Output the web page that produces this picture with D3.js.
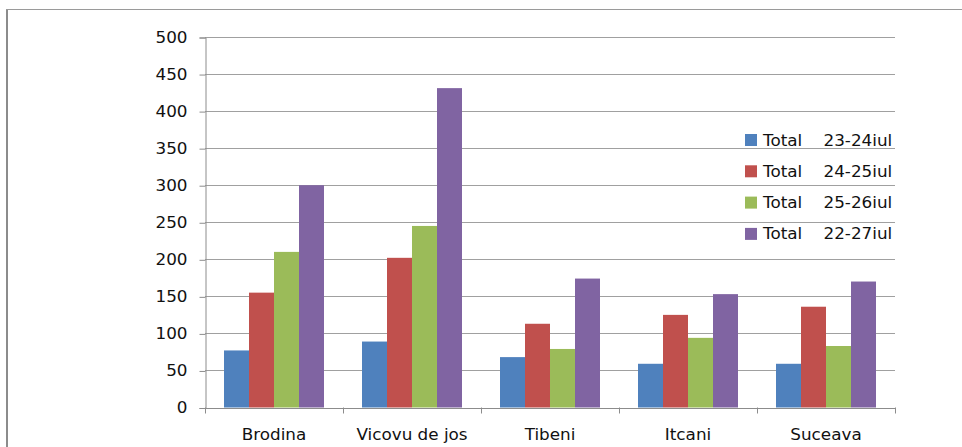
<!DOCTYPE html>
<html>
<head>
<meta charset="utf-8">
<script src="https://cdn.jsdelivr.net/npm/d3@7"></script>
<style>
  html, body { margin: 0; padding: 0; background: #fff; }
  svg { display: block; }
  text { font-family: "DejaVu Sans", sans-serif; font-size: 15px; fill: #111; white-space: pre; }
</style>
</head>
<body>
<svg id="chart" width="962" height="447"></svg>
<script>
// Categories (border points) and totals per period
const categories = ["Brodina", "Vicovu de jos", "Tibeni", "Itcani", "Suceava"];
const seriesNames = ["Total    23-24iul", "Total    24-25iul", "Total    25-26iul", "Total    22-27iul"];
const total2324 = [77, 89, 68, 59, 59];
const total2425 = [155, 202, 113, 125, 136];
const total2526 = [210, 245, 79, 94, 83];
const total2227 = [300, 431, 174, 153, 170];
const yTicks = [0, 50, 100, 150, 200, 250, 300, 350, 400, 450, 500];
const colors = ["#4F81BD", "#C0504D", "#9BBB59", "#8064A2"];

const seriesValues = [total2324, total2425, total2526, total2227];
const svg = d3.select("#chart");
const stretch = 1.12; // text is drawn slightly wide

// outer frame (left and top edges)
svg.append("line").attr("x1", 7).attr("x2", 7).attr("y1", 9).attr("y2", 447)
  .attr("stroke", "#8c8c8c").attr("stroke-width", 2);
svg.append("line").attr("x1", 6).attr("x2", 962).attr("y1", 9.5).attr("y2", 9.5)
  .attr("stroke", "#9a9a9a").attr("stroke-width", 1);

const plot = { left: 205, right: 895, top: 37, bottom: 407.5 };

const x0 = d3.scaleBand().domain(categories).range([plot.left, plot.right]);
const x1 = d3.scaleBand().domain(d3.range(seriesNames.length))
  .range([19, x0.bandwidth() - 19]);
const y = d3.scaleLinear().domain([0, 500]).range([plot.bottom, plot.top]);

// horizontal gridlines
svg.append("g").selectAll("line").data(yTicks.filter(d => d > 0)).join("line")
  .attr("x1", plot.left).attr("x2", plot.right)
  .attr("y1", d => Math.round(y(d)) + 0.5).attr("y2", d => Math.round(y(d)) + 0.5)
  .attr("stroke", "#a0a0a0").attr("stroke-width", 1.2);

// bars
const groups = svg.append("g").selectAll("g").data(categories).join("g")
  .attr("transform", c => `translate(${x0(c)},0)`);
groups.selectAll("rect")
  .data((c, ci) => seriesValues.map((vals, si) => ({ si, v: vals[ci] })))
  .join("rect")
  .attr("x", d => x1(d.si))
  .attr("width", x1.bandwidth())
  .attr("y", d => y(d.v))
  .attr("height", d => y(0) - y(d.v))
  .attr("fill", d => colors[d.si]);

// y axis
const yAxis = d3.axisLeft(y).tickValues(yTicks).tickSize(6).tickPadding(12).tickFormat(d3.format("d"));
const gy = svg.append("g").attr("transform", `translate(${plot.left + 0.5},0.5)`).call(yAxis);
gy.attr("font-size", null).attr("font-family", null);
gy.select(".domain").attr("stroke", "#8c8c8c");
gy.selectAll(".tick line").attr("stroke", "#8c8c8c");
gy.selectAll(".tick text").each(function () {
  const t = d3.select(this);
  const xx = +t.attr("x");
  t.attr("x", null).attr("fill", null)
    .attr("transform", `translate(${xx},0) scale(${stretch},1)`);
});

// x axis baseline with boundary ticks
const gx = svg.append("g");
gx.append("line").attr("x1", plot.left).attr("x2", plot.right)
  .attr("y1", Math.round(plot.bottom) + 0.5).attr("y2", Math.round(plot.bottom) + 0.5)
  .attr("stroke", "#8c8c8c");
const bounds = categories.map(c => x0(c)).concat([plot.right]);
gx.selectAll("line.b").data(bounds).join("line").attr("class", "b")
  .attr("x1", d => Math.round(d) + 0.5).attr("x2", d => Math.round(d) + 0.5)
  .attr("y1", plot.bottom).attr("y2", plot.bottom + 6)
  .attr("stroke", "#8c8c8c");
gx.selectAll("text").data(categories).join("text")
  .attr("text-anchor", "middle")
  .attr("transform", c => `translate(${x0(c) + x0.bandwidth() / 2},440) scale(${stretch},1)`)
  .text(c => c);

// legend
const legend = svg.append("g");
const rows = legend.selectAll("g").data(seriesNames).join("g")
  .attr("transform", (d, i) => `translate(745,${140 + i * 31.3})`);
rows.append("rect").attr("x", 0).attr("y", -6).attr("width", 12).attr("height", 12)
  .attr("fill", (d, i) => colors[i]);
rows.append("text").attr("transform", `translate(18,5.5) scale(${stretch},1)`).text(d => d);
</script>
</body>
</html>
